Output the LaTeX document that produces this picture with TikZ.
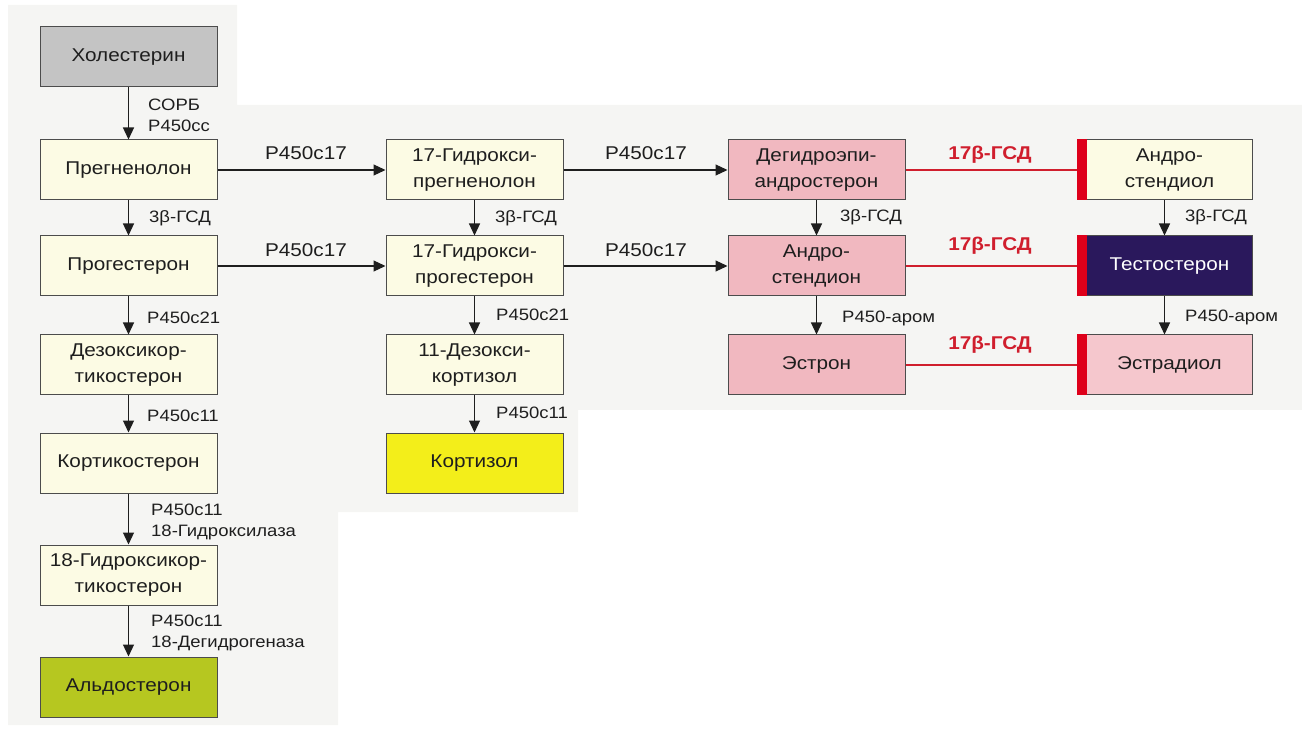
\documentclass[tikz,border=0pt]{standalone}
\usepackage{fontspec}
\setmainfont{Liberation Sans}[FakeStretch=1.12]
\usetikzlibrary{arrows.meta}

\definecolor{paper}{RGB}{245,245,243}
\definecolor{cream}{RGB}{252,251,228}
\definecolor{cholgray}{RGB}{196,196,196}
\definecolor{pinkbox}{RGB}{241,184,192}
\definecolor{pinklight}{RGB}{245,199,205}
\definecolor{testo}{RGB}{42,24,92}
\definecolor{cortyellow}{RGB}{243,238,26}
\definecolor{aldogreen}{RGB}{182,199,32}
\definecolor{hsdred}{RGB}{208,30,45}
\definecolor{barred}{RGB}{222,0,26}
\definecolor{ink}{RGB}{30,30,30}

% offset for text in boxes that carry the red bar on their left side
\newcommand{\barpad}{\hspace*{10pt}}

\tikzset{
  box/.style={draw=black!70, line width=1pt, minimum width=177pt, minimum height=60pt,
              inner sep=2pt, align=center, text=ink,
              font=\fontsize{18.5}{26}\selectfont},
  rbox/.style={box, minimum width=175pt},
  conv/.style={draw=ink, line width=1.2pt, -{Triangle[length=12pt,width=11pt]}},
  hsd/.style={draw=hsdred, line width=1.6pt},
  enz/.style={anchor=west, inner sep=0pt, text=ink, align=left,
              font=\fontsize{16.5}{21}\selectfont},
  enzbig/.style={anchor=center, inner sep=0pt, text=ink,
              font=\fontsize{18.5}{22}\selectfont},
  hsdlab/.style={anchor=center, inner sep=0pt, text=hsdred,
              font=\fontsize{18.5}{22}\selectfont\bfseries},
}

\begin{document}
\begin{tikzpicture}[x=1pt,y=-1pt]
\useasboundingbox (0,0) rectangle (1302,735);

% page tone behind the scheme
\fill[paper] (8,5) -- (237,5) -- (237,105) -- (1302,105) -- (1302,410)
  -- (578,410) -- (578,512) -- (338,512) -- (338,725) -- (8,725) -- cycle;

% left column
\node[box, fill=cholgray] (chol)  at (128.5,57)  {Холестерин};
\node[box, fill=cream]    (preg)  at (128.5,170) {Прегненолон};
\node[box, fill=cream]    (prog)  at (128.5,266) {Прогестерон};
\node[box, fill=cream]    (doc)   at (128.5,365) {Дезоксикор-\\тикостерон};
\node[box, fill=cream]    (cort)  at (128.5,463) {Кортикостерон};
\node[box, fill=cream]    (hcort) at (128.5,575) {18-Гидроксикор-\\тикостерон};
\node[box, fill=aldogreen](aldo)  at (128.5,687) {Альдостерон};

% middle column
\node[box, fill=cream]      (ohpreg) at (474.5,170) {17-Гидрокси-\\прегненолон};
\node[box, fill=cream]      (ohprog) at (474.5,266) {17-Гидрокси-\\прогестерон};
\node[box, fill=cream]      (deoxy)  at (474.5,365) {11-Дезокси-\\кортизол};
\node[box, fill=cortyellow] (cortis) at (474.5,463) {Кортизол};

% androgen / estrogen column
\node[box, fill=pinkbox] (dhea)  at (816.5,170) {Дегидроэпи-\\андростерон};
\node[box, fill=pinkbox] (adion) at (816.5,266) {Андро-\\стендион};
\node[box, fill=pinkbox] (eone)  at (816.5,365) {Эстрон};

% right column with red 17beta-HSD bars
\node[rbox, fill=cream]     (adiol) at (1164.5,170) {\barpad Андро-\\\barpad стендиол};
\node[rbox, fill=testo, text=white] (testo) at (1164.5,266) {\barpad Тестостерон};
\node[rbox, fill=pinklight] (etwo)  at (1164.5,365) {\barpad Эстрадиол};
\foreach \n in {adiol,testo,etwo}
  \fill[barred] (\n.north west) rectangle ([xshift=10pt]\n.south west);

% vertical conversions
\draw[conv] (chol)  -- (preg);
\draw[conv] (preg)  -- (prog);
\draw[conv] (prog)  -- (doc);
\draw[conv] (doc)   -- (cort);
\draw[conv] (cort)  -- (hcort);
\draw[conv] (hcort) -- (aldo);
\draw[conv] (ohpreg) -- (ohprog);
\draw[conv] (ohprog) -- (deoxy);
\draw[conv] (deoxy)  -- (cortis);
\draw[conv] (dhea)  -- (adion);
\draw[conv] (adion) -- (eone);
\draw[conv] (adiol) -- (testo);
\draw[conv] (testo) -- (etwo);

% horizontal conversions
\draw[conv] (preg)   -- (ohpreg);
\draw[conv] (prog)   -- (ohprog);
\draw[conv] (ohpreg) -- (dhea);
\draw[conv] (ohprog) -- (adion);

% reversible 17beta-HSD links
\draw[hsd] (dhea)  -- (adiol.west);
\draw[hsd] (adion) -- (testo.west);
\draw[hsd] (eone)  -- (etwo.west);

% enzyme labels, left column
\node[enz] (e1) at (148,115) {СОРБ\\P450cc};
\node[enz] (e2) at (149,218) {3β-ГСД};
\node[enz] (e3) at (147,318) {P450c21};
\node[enz] (e4) at (147,416) {P450c11};
\node[enz] (e5) at (151,522) {P450c11\\18-Гидроксилаза};
\node[enz] (e6) at (151,633) {P450c11\\18-Дегидрогеназа};

% enzyme labels, middle column
\node[enz] (e7) at (495,218) {3β-ГСД};
\node[enz] (e8) at (496,315) {P450c21};
\node[enz] (e9) at (496,413) {P450c11};

% enzyme labels, right columns
\node[enz] (e10) at (840,217)  {3β-ГСД};
\node[enz] (e11) at (842,318)  {P450-аром};
\node[enz] (e12) at (1185,217) {3β-ГСД};
\node[enz] (e13) at (1185,317) {P450-аром};

% P450c17 labels on horizontal arrows
\node[enzbig] (h1) at (306,153) {P450c17};
\node[enzbig] (h2) at (306,250) {P450c17};
\node[enzbig] (h3) at (646,153) {P450c17};
\node[enzbig] (h4) at (646,250) {P450c17};

% 17beta-HSD labels
\node[hsdlab] (r1) at (990,155) {17β-ГСД};
\node[hsdlab] (r2) at (990,246) {17β-ГСД};
\node[hsdlab] (r3) at (990,345) {17β-ГСД};
\end{tikzpicture}
\end{document}
